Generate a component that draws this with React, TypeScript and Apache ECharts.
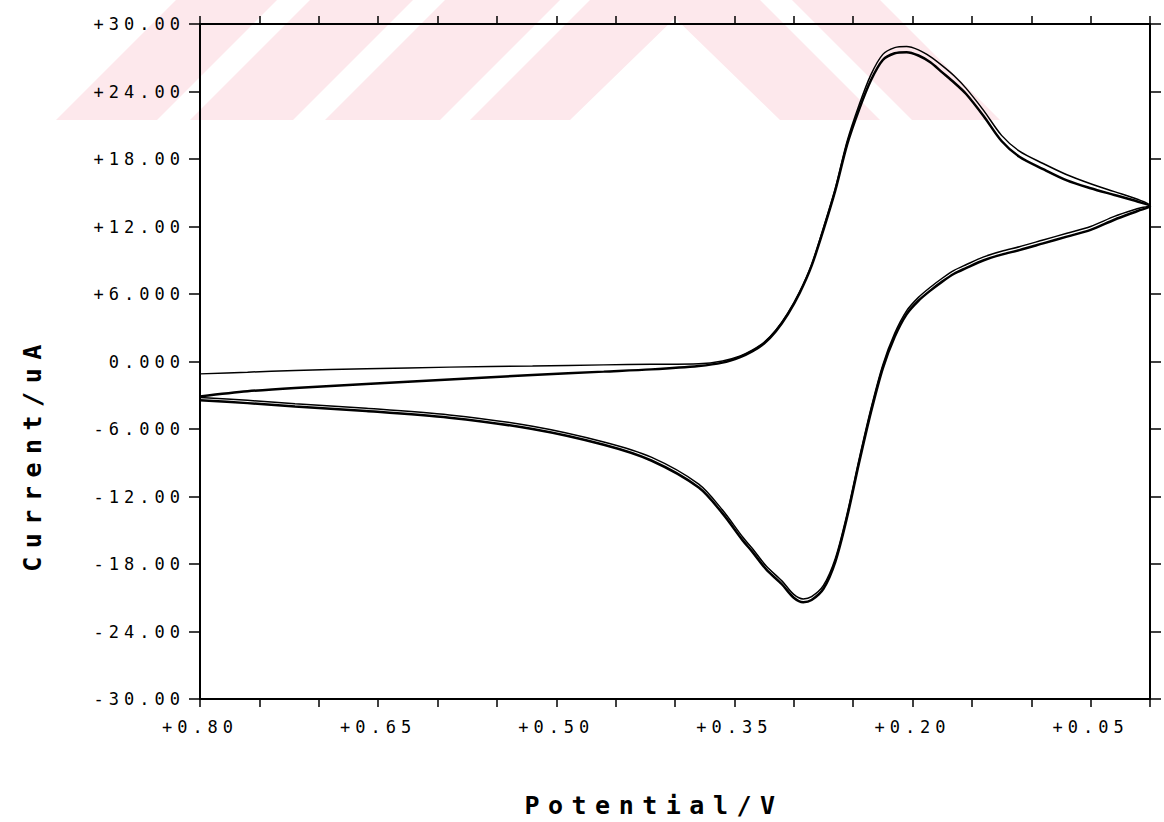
import React, { useEffect, useRef } from "react";
import * as echarts from "echarts";

// Axis ticks and labels
const xTickValues = [0.8, 0.65, 0.5, 0.35, 0.2, 0.05];
const xTickLabels = ["+0.80", "+0.65", "+0.50", "+0.35", "+0.20", "+0.05"];
const yTickValues = [30, 24, 18, 12, 6, 0, -6, -12, -18, -24, -30];
const yTickLabels = ["+30.00", "+24.00", "+18.00", "+12.00", "+6.000", "0.000", "-6.000", "-12.00", "-18.00", "-24.00", "-30.00"];

// Potential (V) sampling of the forward (0.80 -> 0.00) and reverse (0.00 -> 0.80) sweeps
const forwardPotential = [0.8, 0.76, 0.72, 0.66, 0.59, 0.52, 0.46, 0.42, 0.38, 0.36, 0.345, 0.335, 0.325, 0.315, 0.305, 0.295, 0.285, 0.275, 0.265, 0.255, 0.245, 0.235, 0.225, 0.215, 0.205, 0.195, 0.185, 0.175, 0.165, 0.155, 0.14, 0.125, 0.11, 0.09, 0.07, 0.05, 0.03, 0.01, 0.0];
const reversePotential = [0.0, 0.01, 0.03, 0.05, 0.07, 0.09, 0.11, 0.125, 0.14, 0.155, 0.165, 0.175, 0.185, 0.195, 0.205, 0.215, 0.225, 0.235, 0.245, 0.255, 0.265, 0.275, 0.285, 0.292, 0.3, 0.31, 0.323, 0.335, 0.343, 0.36, 0.38, 0.42, 0.46, 0.52, 0.59, 0.66, 0.72, 0.76, 0.8];

// Current (uA), first cycle
const cycle1Forward = [-1.1, -0.95, -0.8, -0.65, -0.5, -0.4, -0.3, -0.25, -0.2, 0.05, 0.5, 1.0, 1.7, 2.8, 4.3, 6.2, 8.6, 11.9, 15.4, 19.6, 22.8, 25.5, 27.3, 27.9, 28.0, 27.7, 27.1, 26.3, 25.4, 24.3, 22.3, 20.1, 18.7, 17.6, 16.6, 15.8, 15.1, 14.4, 13.9];
const cycle1Reverse = [13.9, 13.6, 12.9, 12.0, 11.4, 10.8, 10.2, 9.8, 9.3, 8.6, 8.1, 7.4, 6.6, 5.7, 4.5, 2.5, -0.3, -4.2, -8.7, -13.5, -17.5, -19.9, -20.9, -21.1, -20.7, -19.5, -18.2, -16.6, -15.6, -13.2, -10.9, -8.5, -7.15, -5.75, -4.75, -4.15, -3.75, -3.45, -3.2];

// Current (uA), second cycle
const cycle2Forward = [-3.1, -2.65, -2.35, -2.0, -1.6, -1.2, -0.9, -0.7, -0.4, -0.1, 0.4, 0.9, 1.6, 2.7, 4.2, 6.1, 8.5, 11.7, 15.2, 19.3, 22.4, 25.0, 26.8, 27.4, 27.5, 27.2, 26.6, 25.7, 24.8, 23.8, 21.8, 19.6, 18.2, 17.1, 16.1, 15.4, 14.8, 14.2, 13.8];
const cycle2Reverse = [13.8, 13.4, 12.6, 11.7, 11.1, 10.5, 9.9, 9.5, 9.0, 8.3, 7.8, 7.1, 6.3, 5.4, 4.2, 2.2, -0.6, -4.5, -9.0, -13.8, -17.8, -20.2, -21.2, -21.4, -21.0, -19.8, -18.5, -16.9, -15.9, -13.5, -11.2, -8.8, -7.4, -6.0, -5.0, -4.4, -4.0, -3.7, -3.45];

const xTitle = "Potential/V";
const yTitle = "Current/uA";

function cycleData(fwd: number[], rev: number[]) {
  const out: number[][] = [];
  forwardPotential.forEach((v, i) => out.push([v, fwd[i]]));
  reversePotential.forEach((v, i) => {
    if (i > 0) out.push([v, rev[i]]);
  });
  return out;
}

function labelFor(values: number[], labels: string[], v: number) {
  for (let i = 0; i < values.length; i++) {
    if (Math.abs(values[i] - v) < 1e-6) return labels[i];
  }
  return "";
}

export default function App() {
  const ref = useRef<HTMLDivElement>(null);

  useEffect(() => {
    if (!ref.current) return;
    const chart = echarts.init(ref.current, null, { renderer: "svg" });
    const black = "#000";
    const labelFont = "DejaVu Sans Mono";
    const titleFont = 'bold 25px "DejaVu Sans Mono"';
    const pink = "#fde8ec";

    const xCommon = {
      type: "value",
      min: 0,
      max: 0.8,
      interval: 0.05,
      inverse: true,
      splitLine: { show: false },
      axisLine: { show: true, onZero: false, lineStyle: { color: black, width: 2 } },
      axisTick: { show: true, inside: false, length: 8, lineStyle: { color: black, width: 1.5 } },
    };
    const yCommon = {
      type: "value",
      min: -30,
      max: 30,
      interval: 6,
      splitLine: { show: false },
      axisLine: { show: true, onZero: false, lineStyle: { color: black, width: 2 } },
      axisTick: { show: true, inside: false, length: 11, lineStyle: { color: black, width: 1.5 } },
    };

    chart.setOption({
      animation: false,
      backgroundColor: "#fff",
      grid: { left: 200, right: 14, top: 24, bottom: 123, containLabel: false },
      xAxis: [
        {
          ...xCommon,
          position: "bottom",
          axisLabel: {
            show: true,
            margin: 19,
            color: black,
            fontFamily: labelFont,
            fontSize: 17,
            formatter: (v: number) => labelFor(xTickValues, xTickLabels, v),
          },
        },
        { ...xCommon, position: "top", axisLabel: { show: false } },
      ],
      yAxis: [
        {
          ...yCommon,
          position: "left",
          axisLabel: {
            show: true,
            margin: 15,
            color: black,
            fontFamily: labelFont,
            fontSize: 17,
            formatter: (v: number) => labelFor(yTickValues, yTickLabels, v),
          },
        },
        { ...yCommon, position: "right", axisLabel: { show: false } },
      ],
      graphic: [
        { type: "polygon", z: -10, silent: true, shape: { points: [[56, 120], [157, 120], [277, 0], [176, 0]] }, style: { fill: pink } },
        { type: "polygon", z: -10, silent: true, shape: { points: [[190, 120], [293, 120], [413, 0], [310, 0]] }, style: { fill: pink } },
        { type: "polygon", z: -10, silent: true, shape: { points: [[325, 120], [440, 120], [560, 0], [445, 0]] }, style: { fill: pink } },
        { type: "polygon", z: -10, silent: true, shape: { points: [[470, 120], [590, 0], [760, 0], [880, 120], [780, 120], [675, 18], [570, 120]] }, style: { fill: pink } },
        { type: "polygon", z: -10, silent: true, shape: { points: [[912, 120], [1000, 120], [880, 0], [792, 0]] }, style: { fill: pink } },
        {
          type: "text",
          z: 10,
          x: 654,
          y: 805,
          style: { text: xTitle, font: titleFont, fill: black, align: "center", verticalAlign: "middle", textAlign: "center", textVerticalAlign: "middle" },
        },
        {
          type: "text",
          z: 10,
          x: 32,
          y: 454,
          rotation: Math.PI / 2,
          style: { text: yTitle, font: titleFont, fill: black, align: "center", verticalAlign: "middle", textAlign: "center", textVerticalAlign: "middle" },
        },
      ],
      series: [
        {
          type: "line",
          name: "cycle 1",
          data: cycleData(cycle1Forward, cycle1Reverse),
          showSymbol: false,
          smooth: 0.3,
          lineStyle: { color: black, width: 1.5 },
          z: 3,
        },
        {
          type: "line",
          name: "cycle 2",
          data: cycleData(cycle2Forward, cycle2Reverse),
          showSymbol: false,
          smooth: 0.3,
          lineStyle: { color: black, width: 2.5 },
          z: 4,
        },
      ],
    });

    const applySpacing = () => {
      const root = ref.current;
      if (!root) return;
      root.querySelectorAll("svg text").forEach((t) => {
        const txt = (t.textContent || "").trim();
        if (txt === xTitle || txt === yTitle) {
          (t as SVGTextElement).style.letterSpacing = "8.5px";
        }
      });
    };
    applySpacing();
    const timer = window.setTimeout(applySpacing, 0);
    const raf = window.requestAnimationFrame(applySpacing);

    return () => {
      window.clearTimeout(timer);
      window.cancelAnimationFrame(raf);
      chart.dispose();
    };
  }, []);

  return (
    <>
      <style>{`.cv-chart text { letter-spacing: 5px; }`}</style>
      <div
        ref={ref}
        className="cv-chart"
        style={{ position: "absolute", left: 0, top: 0, width: 1164, height: 822, background: "#fff" }}
      />
    </>
  );
}
